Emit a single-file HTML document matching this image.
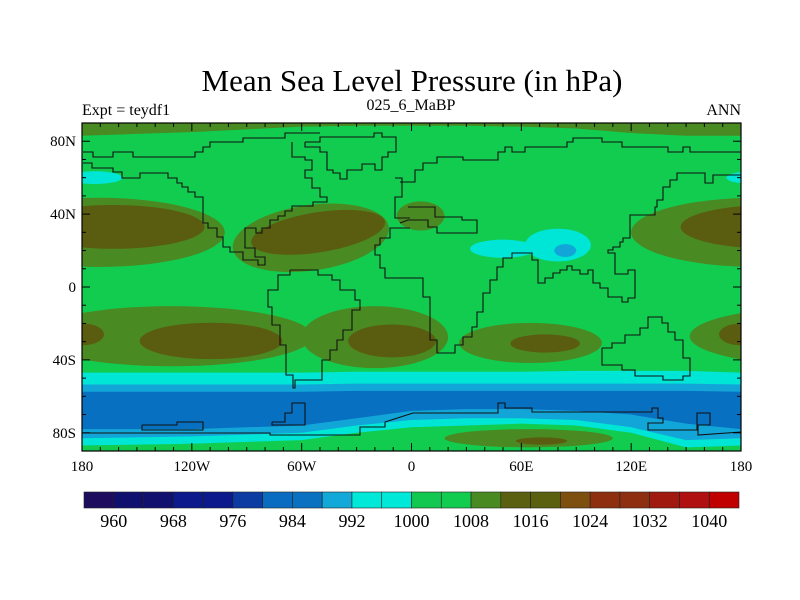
<!DOCTYPE html>
<html><head><meta charset="utf-8"><style>
html,body{margin:0;padding:0;background:#fff;}
svg{display:block;font-family:"Liberation Serif",serif;}
</style></head><body>
<svg id="chart" width="800" height="600" viewBox="0 0 800 600" xmlns="http://www.w3.org/2000/svg">
<defs><clipPath id="mapclip"><rect x="82" y="123" width="659" height="328"/></clipPath></defs>
<text x="412" y="91" font-size="31" text-anchor="middle">Mean Sea Level Pressure (in hPa)</text>
<text x="82" y="115" font-size="16">Expt = teydf1</text>
<text x="411" y="110" font-size="16" text-anchor="middle">025_6_MaBP</text>
<text x="741" y="115" font-size="16" text-anchor="end">ANN</text>
<g id="map" clip-path="url(#mapclip)"></g>
<g id="axes"></g>
<g id="cbar"></g>
</svg>
<script>
// ---- colorbar data ----
const levelLabels = [960, 968, 976, 984, 992, 1000, 1008, 1016, 1024, 1032, 1040];
const levelColors = ["#1e0c5e","#10106e","#10106e","#0c1a8c","#0c1a8c","#0c3ca2","#0a6cc0","#0a70c0","#12a8d8","#00e8d8","#00e8d8","#12c850","#12cc50","#4a8a22","#5a6010","#5a6010","#7e5010","#8e3010","#8e3010","#a01a10","#b01010","#c00000"];
// ---- field data (lon/lat) ----
const bandLons = [-180,-150,-120,-90,-60,-30,0,30,60,90,120,150,180];
const cyanTop  = [-47,-47,-47,-47,-47,-46.5,-46.5,-46.5,-46.5,-46,-46,-46,-47];
const cyanBot  = [-87,-86.5,-86,-85,-84,-80,-77,-76,-75,-76,-80,-88,-87];
const lbTop    = [-53.5,-53.5,-53.5,-53.5,-53.5,-53,-53,-53,-53,-53,-53,-53,-53.5];
const lbBot    = [-83,-82.5,-82,-81,-80,-76,-73,-72,-72,-73,-77,-84,-83];
const blueTop  = [-57.5,-57.5,-57.5,-57.5,-57.5,-57,-57,-57,-57,-57,-57,-57,-57.5];
const blueBot  = [-78,-78,-78,-77,-76,-72,-68,-67,-67,-68,-70,-75,-78];
const arcticBot = [83,84,85,86.5,88,88.5,88.5,88.5,88,87,84.5,83,83];
// highs: [lonCenter, latCenter] / [lonRadius, latRadius]
const highCenters = [[-171,30],[-163,33],[-55,27],[-51,30],[5,39],[-131,-27],[-109.5,-29.6],[180,-26],[-20,-27.5],[-10.6,-29.6],[65,-30.7],[73,-31],[64,-83],[71,-84.5]];
const highRadii = [[69,19],[50,12],[43,18],[37,11],[13,8],[77,16.5],[39,10],[12,6],[40,17],[24,9],[39,11],[19,5],[46,5],[14,2]];
const highRot = [0,0,-8,-9,0,0,0,0,0,0,0,0,0,0];
const highLevel = [1,2,1,2,1,1,2,2,1,2,1,2,1,2];
// lows: [lon, lat] / [rx, ry]
const lowCenters = [[-173,60],[80,23],[50,21],[84,20]];
const lowRadii = [[15,3.5],[18,9],[18,5],[6,3.5]];
const lowLevel = [1,1,1,2];
const fillColors = ["#12cc50","#4a8a22","#5a5c10"];
const lowColors = ["#12cc50","#00e6d6","#12a6d8","#0870c0"];

const NS="http://www.w3.org/2000/svg";
const X0=82,X1=741,Y0=123,Y1=451;
function xs(lon){return X0+(lon+180)*(X1-X0)/360;}
function ys(lat){return Y0+(90-lat)*(Y1-Y0)/180;}
function mk(tag,attrs,parent){const e=document.createElementNS(NS,tag);for(const k in attrs)e.setAttribute(k,attrs[k]);parent.appendChild(e);return e;}
const map=document.getElementById('map');
let bg=mk('rect',{x:X0,y:Y0,width:X1-X0,height:Y1-Y0,fill:fillColors[0]},map);


function band(top,bot,color,name){
  let d='M'+bandLons.map((l,i)=>xs(l)+','+ys(top[i])).join(' L');
  for(let i=bandLons.length-1;i>=0;i--)d+=' L'+xs(bandLons[i])+','+ys(bot[i]);
  const p=mk('path',{d:d+'Z',fill:color},map);
  
  
}
band(bandLons.map(()=>90),arcticBot,fillColors[1],'arctic-high-band');
band(cyanTop,cyanBot,lowColors[1],'southern-low-band-992');
band(lbTop,lbBot,lowColors[2],'southern-low-band-988');
band(blueTop,blueBot,lowColors[3],'southern-low-band-984');
function ell(c,r,rot,color,name){
  [0,-360,360].forEach(off=>{
    const cx=xs(c[0]+off),cy=ys(c[1]);
    const rx=r[0]*(X1-X0)/360, ry=r[1]*(Y1-Y0)/180;
    const e=mk('ellipse',{cx:cx,cy:cy,rx:rx,ry:ry,fill:color,transform:`rotate(${rot} ${cx} ${cy})`},map);
    
    
  });
}
highCenters.forEach((c,i)=>ell(c,highRadii[i],highRot[i],fillColors[highLevel[i]],'high-pressure-contour'));
lowCenters.forEach((c,i)=>ell(c,lowRadii[i],0,lowColors[lowLevel[i]],'low-pressure-contour'));
// ---- basemap coastlines (pixel geometry of the base map) ----
const coastPx=[
 [[83,152],[93,152],[93,157],[113,157],[113,152],[133,152],[133,157],[195,157],[195,152],[203,152],[203,147],[210,147],[210,142],[243,142],[243,138],[285,138],[285,133],[320,133]],
 [[83,163],[92,163],[92,168],[113,168],[113,172],[122,172],[122,178],[140,178],[140,173],[168,173],[168,178],[177,178],[177,183],[182,183],[182,187],[188,187],[188,192],[195,192],[195,197],[203,197],[203,223],[208,223],[208,228],[217,228],[217,237],[223,237],[223,247],[230,247],[230,252],[243,252],[243,260],[258,260],[258,265],[265,265],[265,257],[255,257],[255,248],[245,248],[245,228],[256,228],[256,233],[262,233],[262,228],[270,228],[270,220],[278,220],[278,216],[285,216],[285,211],[292,211],[292,206],[313,206],[313,202],[327,202],[327,197],[320,197],[320,188],[312,188],[312,178],[305,178],[305,170],[312,170],[312,160],[305,160],[305,157],[292,157],[292,142]],
 [[305,142],[305,147],[320,147],[320,152],[327,152],[327,170],[333,170],[333,173],[340,173],[340,179],[347,179],[347,170],[362,170],[362,164],[375,164],[375,170],[382,170],[382,157],[388,157],[388,152],[396,152],[396,137],[382,137],[382,133],[374,133],[374,137],[320,137],[320,142],[305,142]],
 [[290,270],[318,270],[318,275],[332,275],[332,280],[340,280],[340,290],[355,290],[355,300],[360,300],[360,310],[352,310],[352,330],[343,330],[343,340],[337,340],[337,350],[330,350],[330,360],[322,360],[322,380],[295,380],[295,388],[293,388],[293,375],[286,375],[286,345],[280,345],[280,325],[272,325],[272,307],[268,307],[268,290],[278,290],[278,275],[290,275],[290,270]],
 [[395,178],[402,178],[402,197],[395,197],[395,218],[410,218]],
 [[410,228],[390,228],[390,238],[380,238],[380,245],[375,245],[375,255],[380,255],[380,268],[385,268],[385,278],[423,278],[423,297],[430,297],[430,340],[437,340],[437,353],[455,353],[455,345],[463,345],[463,337],[472,337],[472,327],[477,327],[477,312],[483,312],[483,293],[490,293],[490,280],[497,280],[497,267],[503,267],[503,258],[512,258],[512,253],[532,253],[532,260],[538,260],[538,283],[545,283],[545,278],[553,278],[553,273],[560,273],[560,270],[567,270],[567,266],[572,266],[572,270],[580,270],[580,274],[588,274],[588,270],[593,270],[593,283],[600,283],[600,288],[608,288],[608,297],[622,297],[622,302],[628,302],[628,298],[635,298],[635,270],[628,270],[628,274],[615,274],[615,253],[608,253],[608,250],[613,250],[613,247],[620,247],[620,242],[623,242],[623,238],[630,238],[630,215],[655,215],[655,207],[657,207],[657,200],[663,200],[663,187],[670,187],[670,180],[677,180],[677,173],[705,173],[705,183],[713,183],[713,175],[741,175]],
 [[400,182],[415,182],[415,170],[423,170],[423,163],[437,163],[437,157],[463,157],[463,160],[498,160],[498,152],[505,152],[505,147],[512,147],[512,152],[525,152],[525,147],[567,147],[567,142],[573,142],[573,138],[602,138],[602,142],[622,142],[622,147],[668,147],[668,152],[683,152],[683,147],[690,147],[690,152],[741,152]],
 [[408,207],[435,207],[435,217],[462,217],[462,220],[477,220],[477,233],[437,233],[437,227],[428,227],[428,220],[408,220],[400,223]],
 [[602,348],[612,348],[612,343],[625,343],[625,335],[640,335],[640,328],[648,328],[648,317],[662,317],[662,323],[668,323],[668,332],[675,332],[675,340],[683,340],[683,358],[690,358],[690,376],[683,376],[683,380],[663,380],[663,376],[635,376],[635,370],[622,370],[622,365],[602,365],[602,348]],
 [[83,433],[270,433],[270,435],[360,435],[360,427],[385,427],[385,422],[413,413],[498,413],[498,403],[505,403],[505,408],[532,408],[532,412],[652,412],[652,408],[658,408],[658,418],[663,418],[663,423],[648,423],[648,430],[697,430],[697,413],[710,413],[710,425],[698,425],[698,435],[741,432]],
 [[142,425],[142,430],[203,430],[203,422],[177,422],[177,425],[142,425]],
 [[272,422],[285,422],[285,413],[292,413],[292,403],[305,403],[305,425],[272,425],[272,422]]
];
coastPx.forEach(pts=>{
  const p=mk('polyline',{points:pts.map(q=>q.join(',')).join(' '),fill:'none',stroke:'#111','stroke-width':1.1},map);
  
  
});
// ---- axes ----
const ax=document.getElementById('axes');
const xTickVals=[-180,-120,-60,0,60,120,180];
const xTickLabels=["180","120W","60W","0","60E","120E","180"];
const yTickVals=[80,40,0,-40,-80];
const yTickLabels=["80N","40N","0","40S","80S"];
let fr=mk('rect',{x:X0,y:Y0,width:X1-X0,height:Y1-Y0,fill:'none',stroke:'#000','stroke-width':1.2},ax);


for(let lon=-180;lon<=180;lon+=10){
  const maj=xTickVals.includes(lon), L=maj?8:4, x=xs(lon);
  const t1=mk('line',{x1:x,y1:Y0,x2:x,y2:Y0+L,stroke:'#000','stroke-width':1},ax);
  
  
  const t2=mk('line',{x1:x,y1:Y1,x2:x,y2:Y1-L,stroke:'#000','stroke-width':1},ax);
  
  
}
for(let lat=-90;lat<=90;lat+=10){
  const maj=yTickVals.includes(lat), L=maj?8:4, y=ys(lat);
  const t1=mk('line',{x1:X0,y1:y,x2:X0+L,y2:y,stroke:'#000','stroke-width':1},ax);
  
  
  const t2=mk('line',{x1:X1,y1:y,x2:X1-L,y2:y,stroke:'#000','stroke-width':1},ax);
  
  
}
xTickVals.forEach((v,i)=>{
  const t=mk('text',{x:xs(v),y:471,'font-size':15,'text-anchor':'middle'},ax);
  t.textContent=xTickLabels[i];
  
  
});
yTickVals.forEach((v,i)=>{
  const t=mk('text',{x:76,y:ys(v)+5,'font-size':15,'text-anchor':'end'},ax);
  t.textContent=yTickLabels[i];
  
  
});
// ---- colorbar ----
const cb=document.getElementById('cbar');
const CB0=84,CB1=739,CBy=492,CBh=16,n=levelColors.length,bw=(CB1-CB0)/n;
levelColors.forEach((c,i)=>{
  const r=mk('rect',{x:CB0+i*bw,y:CBy,width:bw,height:CBh,fill:c,stroke:'#222','stroke-width':0.6},cb);
  
  
});
levelLabels.forEach((v,i)=>{
  const t=mk('text',{x:CB0+(1+2*i)*bw,y:527,'font-size':18,'text-anchor':'middle'},cb);
  t.textContent=v;
  
  
});
</script>
</body></html>
